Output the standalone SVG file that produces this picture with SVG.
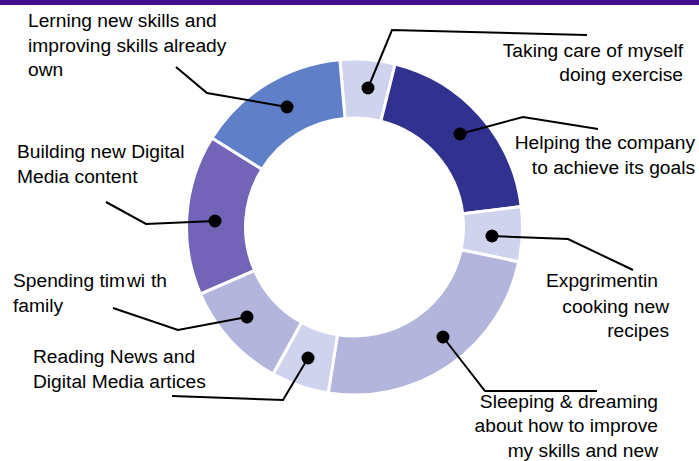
<svg xmlns="http://www.w3.org/2000/svg" width="699" height="461" viewBox="0 0 699 461">
<style>
.seg{stroke:#ffffff;stroke-width:3;stroke-linejoin:miter}
.light{fill:#D0D3EE}
.med{fill:#B4B5DD}
.dark{fill:#313190}
.purple{fill:#7364B8}
.blue{fill:#5F80C8}
.lbl{font-family:"Liberation Sans",Arial,sans-serif;font-size:19.2px;fill:#000000}
.end{text-anchor:end}
.conn{fill:none;stroke:#000000;stroke-width:2;stroke-linejoin:miter}
.dot{fill:#000000}
</style>
<rect x="0" y="0" width="699" height="461" fill="#ffffff"/>
<rect x="0" y="0" width="699" height="5" fill="#420F8E"/>

<g id="seg-taking-care">
<path class="seg light" d="M339.86,59.64 A168,168 0 0 1 395.14,63.99 L380.87,121.24 A109,109 0 0 0 345.00,118.42 Z"/>
</g>
<g id="seg-helping">
<path class="seg dark" d="M395.14,63.99 A168,168 0 0 1 521.25,206.53 L462.69,213.72 A109,109 0 0 0 380.87,121.24 Z"/>
</g>
<g id="seg-experimenting">
<path class="seg light" d="M521.25,206.53 A168,168 0 0 1 518.83,261.93 L461.12,249.66 A109,109 0 0 0 462.69,213.72 Z"/>
</g>
<g id="seg-sleeping">
<path class="seg med" d="M518.83,261.93 A168,168 0 0 1 328.22,392.93 L337.45,334.66 A109,109 0 0 0 461.12,249.66 Z"/>
</g>
<g id="seg-reading">
<path class="seg light" d="M328.22,392.93 A168,168 0 0 1 273.05,373.94 L301.66,322.33 A109,109 0 0 0 337.45,334.66 Z"/>
</g>
<g id="seg-family">
<path class="seg med" d="M273.05,373.94 A168,168 0 0 1 200.43,293.99 L254.54,270.46 A109,109 0 0 0 301.66,322.33 Z"/>
</g>
<g id="seg-building">
<path class="seg purple" d="M200.43,293.99 A168,168 0 0 1 212.03,137.97 L262.06,169.24 A109,109 0 0 0 254.54,270.46 Z"/>
</g>
<g id="seg-learning">
<path class="seg blue" d="M212.03,137.97 A168,168 0 0 1 339.86,59.64 L345.00,118.42 A109,109 0 0 0 262.06,169.24 Z"/>
</g>

<g id="connectors">
<polyline class="conn" points="368,88 392,30 587,35"/>
<polyline class="conn" points="460,134 523,117 598,129"/>
<polyline class="conn" points="492,236 568,239 633,270"/>
<polyline class="conn" points="443,337 485,391 597,391"/>
<polyline class="conn" points="308,358 283,400 172,396"/>
<polyline class="conn" points="247,317 178,330 113,308"/>
<polyline class="conn" points="215,221 146,224 106,202"/>
<polyline class="conn" points="287,107 207,93 176,67"/>
<circle class="dot" cx="368" cy="88" r="6.5"/>
<circle class="dot" cx="460" cy="134" r="6.5"/>
<circle class="dot" cx="492" cy="236" r="6.5"/>
<circle class="dot" cx="443" cy="337" r="6.5"/>
<circle class="dot" cx="308" cy="358" r="6.5"/>
<circle class="dot" cx="247" cy="317" r="6.5"/>
<circle class="dot" cx="215" cy="221" r="6.5"/>
<circle class="dot" cx="287" cy="107" r="6.5"/>
</g>

<g id="label-learning">
<text class="lbl" x="28" y="27">Lerning new skills and</text>
<text class="lbl" x="28" y="51.5">improving skills already</text>
<text class="lbl" x="28" y="76">own</text>
</g>
<g id="label-building">
<text class="lbl" x="17" y="158">Building new Digital</text>
<text class="lbl" x="17" y="183">Media content</text>
</g>
<g id="label-family">
<text class="lbl" x="13" y="287">Spending tim<tspan x="127">wi</tspan><tspan x="151">th</tspan></text>
<text class="lbl" x="13" y="312">family</text>
</g>
<g id="label-reading">
<text class="lbl" x="33" y="363">Reading News and</text>
<text class="lbl" x="33" y="388">Digital Media artices</text>
</g>
<g id="label-taking-care">
<text class="lbl end" x="683" y="57">Taking care of myself</text>
<text class="lbl end" x="683" y="81">doing exercise</text>
</g>
<g id="label-helping">
<text class="lbl end" x="695" y="149">Helping the company</text>
<text class="lbl end" x="695" y="174">to achieve its goals</text>
</g>
<g id="label-experimenting">
<text class="lbl end" x="658" y="287">Expgrimentin</text>
<text class="lbl end" x="669" y="313">cooking new</text>
<text class="lbl end" x="669" y="337">recipes</text>
</g>
<g id="label-sleeping">
<text class="lbl end" x="658" y="408">Sleeping &amp; dreaming</text>
<text class="lbl end" x="658" y="432">about how to improve</text>
<text class="lbl end" x="658" y="457">my skills and new</text>
</g>
</svg>
